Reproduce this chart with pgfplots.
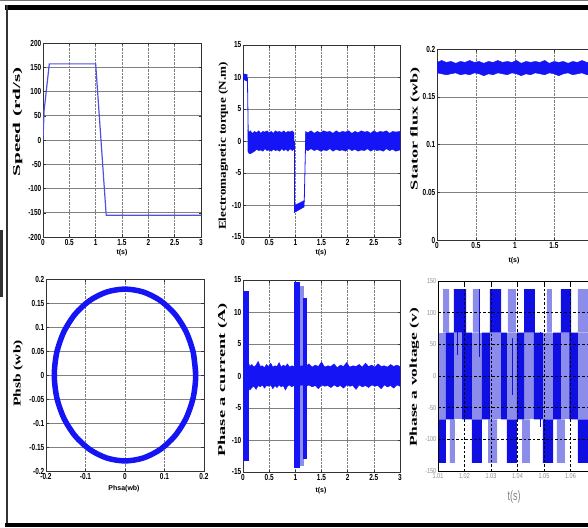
\documentclass[border=0pt]{standalone}
\usepackage{pgfplots}
\pgfplotsset{compat=1.18}
\usepackage{fontspec}
\setmainfont{Liberation Serif}
\newfontfamily\tickfont{Liberation Sans}
\definecolor{sp}{RGB}{80,80,225}
\definecolor{bl}{RGB}{20,20,245}
\definecolor{lb}{RGB}{140,140,235}
\definecolor{db}{RGB}{15,15,225}
\pgfplotsset{
 base/.style={scale only axis, anchor=north west, clip=true,
  axis line style={black!80, line width=0.7pt},
  tick align=inside, major tick length=2.5pt, tick style={black!80, line width=0.4pt},
  grid=major,
  x grid style={black!50, densely dotted, line width=0.6pt},
  y grid style={black!50, line width=0.5pt},
  xticklabel style={inner sep=1.5pt}, yticklabel style={inner sep=1.5pt},
  /pgf/number format/assume math mode=true,
  /pgf/number format/fixed, /pgf/number format/precision=2},
 tl/.style={tick label style={font=\tickfont\bfseries\fontsize{6.5}{7}\selectfont, yscale=1.35}},
}
\tikzset{ylab/.style={rotate=90, font=\fontsize{10.5}{12}\selectfont\bfseries, inner sep=0pt},
 xlab/.style={font=\tickfont\bfseries\fontsize{7}{8}\selectfont, inner sep=0pt}}
\begin{document}
\begin{tikzpicture}
\useasboundingbox (0pt,0pt) rectangle (588pt,-527pt);
\clip (0pt,0pt) rectangle (588pt,-527pt);
% ---------- 1 speed
\begin{axis}[base, tl, at={(43pt,-43pt)}, width=158pt, height=194pt,
 xmin=0, xmax=3, ymin=-200, ymax=200, xtick={0,0.5,...,3}, ytick={-200,-150,...,200}]
\addplot[sp, line width=1.2pt] coordinates {(0,0) (0.02,60) (0.12,157) (1.0,157) (1.2,-155) (3,-155)};
\end{axis}
% ---------- 2 torque
\begin{axis}[base, tl, at={(243pt,-45pt)}, width=157pt, height=192pt,
 xmin=0, xmax=3, ymin=-15, ymax=15, xtick={0,0.5,...,3}, ytick={-15,-10,...,15}]
\addplot[draw=bl, fill=bl, line width=0.4pt] coordinates {(0.09,1.8) (0.11,1.3) (0.14,1.6) (0.18,1.2) (0.22,1.5) (0.26,1.3) (0.3,1.6) (0.34,1.2) (0.38,1.5) (0.42,1.4) (0.46,1.6) (0.5,1.3) (0.54,1.5) (0.58,1.2) (0.62,1.6) (0.66,1.4) (0.7,1.5) (0.74,1.3) (0.78,1.6) (0.82,1.3) (0.86,1.5) (0.9,1.4) (0.94,1.6) (0.975,1.3)
 (0.975,-1.3) (0.94,-1.5) (0.9,-1.2) (0.86,-1.6) (0.82,-1.3) (0.78,-1.5) (0.74,-1.2) (0.7,-1.6) (0.66,-1.4) (0.62,-1.5) (0.58,-1.3) (0.54,-1.6) (0.5,-1.4) (0.46,-1.5) (0.42,-1.2) (0.38,-1.6) (0.34,-1.4) (0.3,-1.5) (0.26,-1.3) (0.22,-1.6) (0.18,-1.8) (0.14,-2.0) (0.11,-1.9) (0.09,-1.5)};
\addplot[draw=bl, fill=bl, line width=0.4pt] coordinates {(1.19,1.5) (1.24,1.3) (1.3,1.6) (1.36,1.2) (1.42,1.5) (1.48,1.3) (1.54,1.6) (1.6,1.4) (1.66,1.5) (1.72,1.2) (1.78,1.6) (1.84,1.3) (1.9,1.5) (1.96,1.4) (2.02,1.6) (2.08,1.2) (2.14,1.5) (2.2,1.3) (2.26,1.6) (2.32,1.4) (2.38,1.5) (2.44,1.2) (2.5,1.6) (2.56,1.3) (2.62,1.5) (2.68,1.4) (2.74,1.6) (2.8,1.2) (2.86,1.5) (2.92,1.4) (3,1.5)
 (3,-1.4) (2.92,-1.6) (2.86,-1.3) (2.8,-1.5) (2.74,-1.2) (2.68,-1.6) (2.62,-1.4) (2.56,-1.5) (2.5,-1.3) (2.44,-1.6) (2.38,-1.2) (2.32,-1.5) (2.26,-1.4) (2.2,-1.6) (2.14,-1.3) (2.08,-1.5) (2.02,-1.2) (1.96,-1.6) (1.9,-1.4) (1.84,-1.5) (1.78,-1.3) (1.72,-1.6) (1.66,-1.2) (1.6,-1.5) (1.54,-1.4) (1.48,-1.6) (1.42,-1.3) (1.36,-1.5) (1.3,-1.2) (1.24,-1.5) (1.19,-1.3)};
\addplot[draw=bl, fill=bl, line width=0.4pt] coordinates {(0,9.6) (0,10.5) (0.08,10.4) (0.08,9.3)};
\addplot[draw=bl, fill=bl, line width=0.4pt] coordinates {(0.975,-10.1) (1.17,-9.3) (1.17,-10.3) (0.975,-11.2)};
\addplot[bl, line width=0.8pt] coordinates {(0,0) (0,10.4) (0.05,10.2) (0.085,9.8) (0.1,1) (0.11,-1)};
\addplot[bl, line width=0.8pt] coordinates {(0.975,0) (0.975,-11)};
\addplot[bl, line width=0.8pt] coordinates {(1.17,-9.6) (1.2,1.2)};
\end{axis}
% ---------- 3 stator flux
\begin{axis}[base, tl, at={(437pt,-49pt)}, width=156pt, height=191pt,
 xmin=0, xmax=2, ymin=0, ymax=0.2, xtick={0,0.5,1,1.5,2}, ytick={0,0.05,0.1,0.15,0.2}]
\addplot[draw=bl, fill=bl, line width=0.4pt] coordinates {(0,0.186) (0.06,0.188) (0.12,0.186) (0.18,0.187) (0.24,0.185) (0.3,0.187) (0.36,0.186) (0.42,0.188) (0.48,0.186) (0.54,0.187) (0.6,0.185) (0.66,0.187) (0.72,0.186) (0.78,0.188) (0.84,0.186) (0.9,0.187) (0.96,0.186) (1.02,0.188) (1.08,0.185) (1.14,0.187) (1.2,0.186) (1.26,0.187) (1.32,0.186) (1.38,0.188) (1.44,0.185) (1.5,0.187) (1.56,0.186) (1.62,0.187) (1.68,0.185) (1.74,0.187) (1.8,0.186) (1.86,0.188) (1.92,0.186) (2,0.187)
 (2,0.174) (1.92,0.173) (1.86,0.175) (1.8,0.174) (1.74,0.173) (1.68,0.175) (1.62,0.174) (1.56,0.172) (1.5,0.174) (1.44,0.175) (1.38,0.173) (1.32,0.174) (1.26,0.175) (1.2,0.173) (1.14,0.174) (1.08,0.172) (1.02,0.174) (0.96,0.175) (0.9,0.173) (0.84,0.174) (0.78,0.175) (0.72,0.173) (0.66,0.174) (0.6,0.172) (0.54,0.174) (0.48,0.175) (0.42,0.173) (0.36,0.174) (0.3,0.173) (0.24,0.175) (0.18,0.174) (0.12,0.173) (0.06,0.174) (0,0.175)};
\end{axis}
% ---------- 4 flux locus
\begin{axis}[base, tl, at={(46pt,-279pt)}, width=158pt, height=192pt,
 xmin=-0.2, xmax=0.2, ymin=-0.2, ymax=0.2, xtick={-0.2,-0.1,0,0.1,0.2},
 ytick={-0.2,-0.15,-0.1,-0.05,0,0.05,0.1,0.15,0.2}]
\addplot[bl, line width=5.5pt, smooth] coordinates {(0.179,0) (0.1729,0.0463) (0.1550,0.0895) (0.1266,0.1266) (0.0895,0.1550) (0.0463,0.1729) (0,0.179) (-0.0463,0.1729) (-0.0895,0.1550) (-0.1266,0.1266) (-0.1550,0.0895) (-0.1729,0.0463) (-0.179,0) (-0.1729,-0.0463) (-0.1550,-0.0895) (-0.1266,-0.1266) (-0.0895,-0.1550) (-0.0463,-0.1729) (0,-0.179) (0.0463,-0.1729) (0.0895,-0.1550) (0.1266,-0.1266) (0.1550,-0.0895) (0.1729,-0.0463) (0.179,0) (0.1729,0.0463)};
\end{axis}
% ---------- 5 phase current
\begin{axis}[base, tl, at={(243pt,-280pt)}, width=157pt, height=192pt,
 xmin=0, xmax=3, ymin=-15, ymax=15, xtick={0,0.5,...,3}, ytick={-15,-10,...,15}]
\addplot[draw=lb, fill=lb, line width=0.4pt] coordinates {(1.07,14) (1.15,14) (1.15,-14) (1.07,-14)};
\addplot[draw=bl, fill=bl, line width=0.4pt] coordinates {(0.1,2.2) (0.13,1.5) (0.17,1.8) (0.21,1.4) (0.25,1.7) (0.29,2.3) (0.33,1.5) (0.37,1.6) (0.41,1.3) (0.45,1.8) (0.49,1.5) (0.53,2.0) (0.57,1.4) (0.61,1.6) (0.65,1.5) (0.69,2.1) (0.73,1.4) (0.77,1.7) (0.81,1.5) (0.85,1.9) (0.89,1.4) (0.93,1.6) (0.97,1.5) (1.05,1.4) (1.12,1.6) (1.21,1.5)
 (1.21,-1.5) (1.12,-1.4) (1.05,-1.6) (0.97,-1.5) (0.93,-1.7) (0.89,-1.4) (0.85,-1.6) (0.81,-2.2) (0.77,-1.5) (0.73,-1.7) (0.69,-1.4) (0.65,-1.8) (0.61,-1.5) (0.57,-2.0) (0.53,-1.4) (0.49,-1.6) (0.45,-1.5) (0.41,-1.9) (0.37,-1.4) (0.33,-1.7) (0.29,-1.5) (0.25,-2.1) (0.21,-1.6) (0.17,-1.8) (0.13,-2.2) (0.1,-1.6)};
\addplot[draw=bl, fill=bl, line width=0.4pt] coordinates {(1.21,1.6) (1.26,1.9) (1.32,1.4) (1.38,1.7) (1.44,1.5) (1.5,2.2) (1.56,1.4) (1.62,1.6) (1.68,1.5) (1.74,1.9) (1.8,1.3) (1.86,1.7) (1.92,1.5) (1.98,2.1) (2.04,1.4) (2.1,1.6) (2.16,1.5) (2.22,1.8) (2.28,1.4) (2.34,2.0) (2.4,1.5) (2.46,1.7) (2.52,1.4) (2.58,1.9) (2.64,1.5) (2.7,1.6) (2.76,1.4) (2.82,1.8) (2.88,1.5) (2.94,1.7) (3,1.5)
 (3,-1.6) (2.94,-1.4) (2.88,-1.9) (2.82,-1.5) (2.76,-1.7) (2.7,-1.4) (2.64,-2.0) (2.58,-1.5) (2.52,-1.6) (2.46,-1.4) (2.4,-1.8) (2.34,-1.5) (2.28,-1.7) (2.22,-1.4) (2.16,-2.1) (2.1,-1.5) (2.04,-1.6) (1.98,-1.4) (1.92,-1.9) (1.86,-1.5) (1.8,-1.7) (1.74,-1.4) (1.68,-1.8) (1.62,-1.5) (1.56,-1.6) (1.5,-1.4) (1.44,-2.0) (1.38,-1.5) (1.32,-1.7) (1.26,-1.4) (1.21,-1.6)};
\addplot[draw=bl, fill=bl, line width=0.4pt] coordinates {(0,13.3) (0.1,13.3) (0.1,-13.2) (0,-13.2)};
\addplot[draw=bl, fill=bl, line width=0.4pt] coordinates {(0.97,14.6) (1.07,14.6) (1.07,-14.2) (0.97,-14.2)};
\addplot[draw=bl, fill=bl, line width=0.4pt] coordinates {(1.15,12.2) (1.21,12.2) (1.21,-12.8) (1.15,-12.8)};
\end{axis}
% ---------- 6 phase voltage
\begin{axis}[base, at={(438pt,-281pt)}, width=159pt, height=190pt, axis on top,
 xmin=1.01, xmax=1.07, ymin=-150, ymax=150,
 xtick={1.01,1.02,1.03,1.04,1.05,1.06,1.07}, ytick={-150,-100,...,150},
 axis line style={black, line width=1pt}, tick style={black, line width=0.6pt},
 x grid style={black, dash pattern=on 2.5pt off 2pt, line width=0.5pt},
 y grid style={black, dash pattern=on 2.5pt off 2pt, line width=0.5pt},
 tick label style={font=\tickfont\fontsize{5.5}{6}\selectfont, text=black!45, yscale=1.3},
 unbounded coords=jump]
\addplot[draw=none, fill=lb] coordinates {(1.01,-68.5) (1.01,68.5) (1.07,68.5) (1.07,-68.5)};
\addplot[draw=none, fill=lb] coordinates {
 (1.0119,68.5) (1.0119,137) (1.0142,137) (1.0142,68.5) (1.02,nan)
 (1.0232,68.5) (1.0232,137) (1.0258,137) (1.0258,68.5) (1.02,nan)
 (1.0364,68.5) (1.0364,137) (1.0394,137) (1.0394,68.5) (1.02,nan)
 (1.0511,68.5) (1.0511,137) (1.0530,137) (1.0530,68.5) (1.02,nan)
 (1.0628,68.5) (1.0628,137) (1.07,137) (1.07,68.5) (1.02,nan)
 (1.0145,-68.5) (1.0145,-137) (1.0164,-137) (1.0164,-68.5) (1.02,nan)
 (1.0289,-68.5) (1.0289,-137) (1.0323,-137) (1.0323,-68.5) (1.02,nan)
 (1.0417,-68.5) (1.0417,-137) (1.0447,-137) (1.0447,-68.5) (1.02,nan)
 (1.0549,-68.5) (1.0549,-137) (1.0579,-137) (1.0579,-68.5)};
\addplot[draw=none, fill=db] coordinates {
 (1.0160,68.5) (1.0160,137) (1.0206,137) (1.0206,68.5) (1.02,nan)
 (1.0296,68.5) (1.0296,137) (1.0338,137) (1.0338,68.5) (1.02,nan)
 (1.0425,68.5) (1.0425,137) (1.0466,137) (1.0466,68.5) (1.02,nan)
 (1.0564,68.5) (1.0564,137) (1.0602,137) (1.0602,68.5) (1.02,nan)
 (1.0130,-68.5) (1.0130,68.5) (1.0160,68.5) (1.0160,-68.5) (1.02,nan)
 (1.0191,-68.5) (1.0191,68.5) (1.0228,68.5) (1.0228,-68.5) (1.02,nan)
 (1.0266,-68.5) (1.0266,68.5) (1.0296,68.5) (1.0296,-68.5) (1.02,nan)
 (1.0338,-68.5) (1.0338,68.5) (1.0360,68.5) (1.0360,-68.5) (1.02,nan)
 (1.0398,-68.5) (1.0398,68.5) (1.0425,68.5) (1.0425,-68.5) (1.02,nan)
 (1.0462,-68.5) (1.0462,68.5) (1.0496,68.5) (1.0496,-68.5) (1.02,nan)
 (1.0534,-68.5) (1.0534,68.5) (1.0564,68.5) (1.0564,-68.5) (1.02,nan)
 (1.0596,-68.5) (1.0596,68.5) (1.0628,68.5) (1.0628,-68.5) (1.02,nan)
 (1.0100,-68.5) (1.0100,-137) (1.0130,-137) (1.0130,-68.5) (1.02,nan)
 (1.0228,-68.5) (1.0228,-137) (1.0266,-137) (1.0266,-68.5) (1.02,nan)
 (1.0360,-68.5) (1.0360,-137) (1.0398,-137) (1.0398,-68.5) (1.02,nan)
 (1.0496,-68.5) (1.0496,-137) (1.0534,-137) (1.0534,-68.5) (1.02,nan)
 (1.0628,-68.5) (1.0628,-137) (1.07,-137) (1.07,-68.5)};
\addplot[db, line width=0.8pt] coordinates {(1.0255,137) (1.0255,30) (1.02,nan) (1.0175,80) (1.0175,33) (1.02,nan) (1.0485,70) (1.0485,-80) (1.02,nan) (1.0380,60) (1.0380,-30)};
\end{axis}
% ---------- labels
\node[ylab, xscale=2.02] at (17.5pt,-122pt) {Speed (rd/s)};
\node[ylab, xscale=1.25] at (223.5pt,-146pt) {Electromagnetic torque (N.m)};
\node[ylab, xscale=1.73] at (415pt,-128.5pt) {Stator flux (wb)};
\node[ylab, xscale=1.48] at (18pt,-373.5pt) {Phsb (wb)};
\node[ylab, xscale=1.75] at (222.5pt,-380pt) {Phase a current (A)};
\node[ylab, xscale=1.66] at (414.5pt,-377.5pt) {Phase a voltage (v)};
\node[xlab] at (122pt,-252.5pt) {t(s)};
\node[xlab] at (321pt,-253pt) {t(s)};
\node[xlab] at (514pt,-261pt) {t(s)};
\node[xlab] at (124pt,-489pt) {Phsa(wb)};
\node[xlab] at (321pt,-491pt) {t(s)};
\node[font=\tickfont\fontsize{9}{10}\selectfont, text=black!50, yscale=1.5, inner sep=0pt] at (514pt,-497pt) {t(s)};
% ---------- frame
\draw[black!55, line width=1pt] (0pt,-0.5pt) -- (588pt,-0.5pt);
\draw[black, line width=4.5pt] (5pt,-7.5pt) -- (588pt,-7.5pt);
\draw[black!80, line width=2pt] (6.5pt,-5pt) -- (6.5pt,-525pt);
\draw[black, line width=4pt] (5pt,-525pt) -- (588pt,-525pt);
\draw[black!80, line width=3pt] (1.5pt,-230pt) -- (1.5pt,-297pt);
\end{tikzpicture}
\end{document}
